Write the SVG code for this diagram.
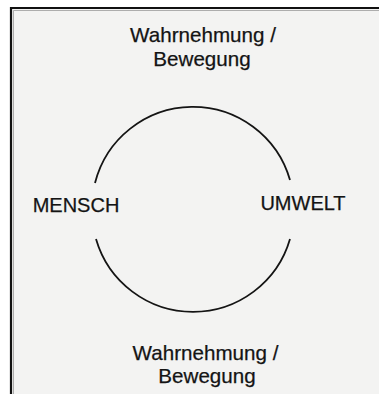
<svg xmlns="http://www.w3.org/2000/svg" width="379" height="394" viewBox="0 0 379 394">
<style>
.lbl{font-family:"Liberation Sans",Arial,sans-serif;font-size:20px;fill:#141414;stroke:#141414;stroke-width:0.25;text-anchor:middle}
.wb{font-size:20.6px}
.arc{fill:none;stroke:#141414;stroke-width:1.8}
</style>
<rect x="0" y="0" width="379" height="394" fill="#ffffff"/>
<rect x="11" y="8" width="368" height="386" fill="#f3f3f2"/>
<g id="frame" fill="none">
<path d="M11,394 V8 H379" stroke="#111" stroke-width="2.2"/>
<path d="M13.5,394 V10.5 H379" stroke="#9a9a9a" stroke-width="0.8"/>
</g>
<g id="connectors">
<path class="arc" d="M95,183 A101,101 0 0 1 290,180"/>
<path class="arc" d="M96,239 A101,101 0 0 0 290,239"/>
</g>
<g id="top-label"><text class="lbl wb" x="203" y="42">Wahrnehmung /</text><text class="lbl wb" x="202" y="66">Bewegung</text></g>
<g id="mensch"><text class="lbl" x="76" y="211.5">MENSCH</text></g>
<g id="umwelt"><text class="lbl" x="303" y="209.5">UMWELT</text></g>
<g id="bottom-label"><text class="lbl wb" x="205.5" y="360">Wahrnehmung /</text><text class="lbl wb" x="207" y="383">Bewegung</text></g>
</svg>
